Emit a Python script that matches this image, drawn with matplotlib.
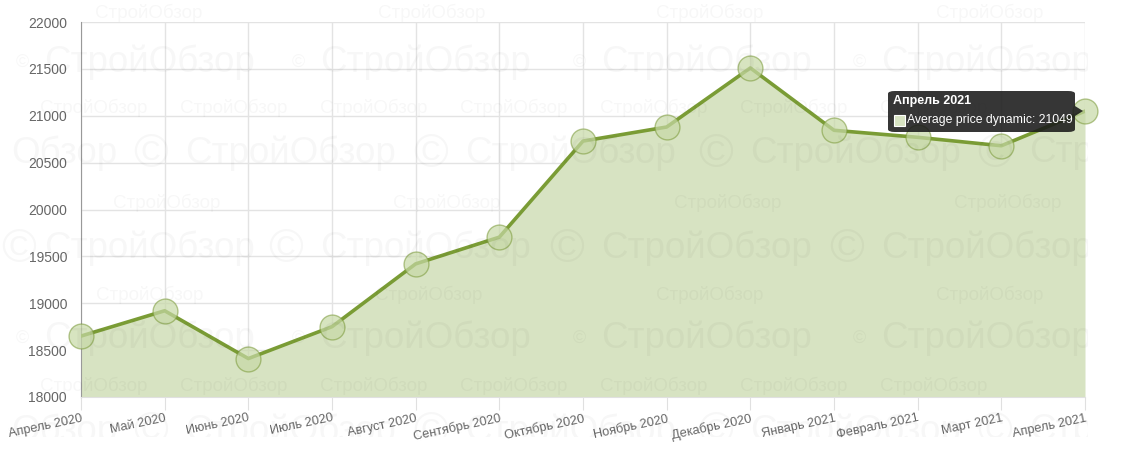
import matplotlib
matplotlib.use("Agg")
import matplotlib.pyplot as plt
from matplotlib.patches import FancyBboxPatch, Rectangle, Polygon
from matplotlib.transforms import Bbox

months = ["Апрель 2020", "Май 2020", "Июнь 2020", "Июль 2020", "Август 2020",
          "Сентябрь 2020", "Октябрь 2020", "Ноябрь 2020", "Декабрь 2020",
          "Январь 2021", "Февраль 2021", "Март 2021", "Апрель 2021"]
prices = [18650, 18920, 18410, 18750, 19420, 19705, 20730, 20880, 21510,
          20845, 20770, 20680, 21049]
yticks = [18000, 18500, 19000, 19500, 20000, 20500, 21000, 21500, 22000]
series_name = "Average price dynamic"
watermark = "СтройОбзор"

plt.rcParams['font.family'] = ['Liberation Sans', 'DejaVu Sans']

W, H = 1135, 458
fig = plt.figure(figsize=(W/100, H/100), dpi=100)
ax = fig.add_axes([81/W, 1-397/H, (1085-81)/W, 375/H])

x = list(range(len(months)))

ax.fill_between(x, prices, 18000, color="#d7e3c2", zorder=2, linewidth=0)
ax.plot(x, prices, color="#7a9c35", linewidth=2.6, zorder=3, solid_joinstyle="round")
ax.scatter(x, prices, s=320, facecolor=(0.78, 0.85, 0.65, 0.7),
           edgecolor=(0.48, 0.60, 0.22, 0.55), linewidth=1.0, zorder=4, clip_on=False)

ax.set_xlim(0, len(months)-1)
ax.set_ylim(18000, 22000)
ax.set_yticks(yticks)
ax.set_yticklabels([str(v) for v in yticks], fontsize=10, color="#666666")
ax.set_xticks(x)
ax.set_xticklabels(months, rotation=12, ha="right", rotation_mode="anchor",
                   fontsize=9.2, color="#666666")
ax.tick_params(axis="x", length=9, color="#e0e0e0", pad=2)
ax.tick_params(axis="y", length=0, pad=10)
ax.grid(True, color="#e3e3e3", linewidth=1, zorder=1)
ax.set_axisbelow(True)
for s in ["top", "right"]:
    ax.spines[s].set_visible(False)
ax.spines["left"].set_color("#999999")
ax.spines["bottom"].set_color("#e0e0e0")

# faint watermark layer, clipped like the reference (x < 1088, y < 437)
clip = Bbox.from_extents(0, H-437, 1088, H)
wm_kw = dict(color="black", alpha=0.03, ha="left", va="center", zorder=5)

def wm(px, py, txt, size):
    t = fig.text(px/W, 1-py/H, txt, fontsize=size, **wm_kw)
    t.set_clip_box(clip)
    t.set_clip_on(True)

big_a = [44, 320, 601, 881]
big_b = [185, 465, 750]
for py, xs, ring in [(62, big_a, False), (153, big_b, True), (248, big_a, True),
                     (338, big_a, False), (431, big_b, True)]:
    for px in xs:
        wm(px, py, watermark, 26.5)
        if ring:
            wm(max(px - 52, 1), py + 2, "©", 34)
        else:
            wm(px - 28, py, "©", 13)
    if xs is big_b:
        wm(11, py, "Обзор", 26.5)
        wm(1029 - 52, py + 2, "©", 34)
        wm(1029, py, "Стр", 26.5)

small_sparse = [95, 378, 656, 936]
small_dense = [40, 180, 320, 460, 600, 740, 880]
for py, xs in [(13, small_sparse), (108, small_dense), (203, [113, 393, 674, 954]),
               (295, [96, 375, 656, 936]), (386, small_dense)]:
    for px in xs:
        wm(px, py, watermark, 13.5)

# tooltip
bx0, by0, bw, bh = 888/W, 1-132/H, 187/W, 41/H
box = FancyBboxPatch((bx0, by0), bw, bh, boxstyle="round,pad=0,rounding_size=0.006",
                     transform=fig.transFigure, facecolor=(0.1, 0.1, 0.1, 0.88),
                     edgecolor="none", zorder=10)
fig.patches.append(box)
tri = Polygon([(bx0+bw, 1-106/H), (bx0+bw+8/W, 1-111/H), (bx0+bw, 1-116/H)],
              closed=True, transform=fig.transFigure, facecolor=(0.1, 0.1, 0.1, 0.88),
              edgecolor="none", zorder=10)
fig.patches.append(tri)
fig.text(893/W, 1-101/H, months[-1], fontsize=9, fontweight="bold",
         color="white", ha="left", va="center", zorder=11)
sw = Rectangle((894/W, 1-126/H), 11/W, 11/H, transform=fig.transFigure,
               facecolor="#d7e3c2", edgecolor="white", linewidth=0.8, zorder=11)
fig.patches.append(sw)
fig.text(907/W, 1-120/H, f"{series_name}: {prices[-1]}", fontsize=8.8,
         color="white", ha="left", va="center", zorder=11)

fig.savefig("out.png", dpi=100, facecolor="white")
